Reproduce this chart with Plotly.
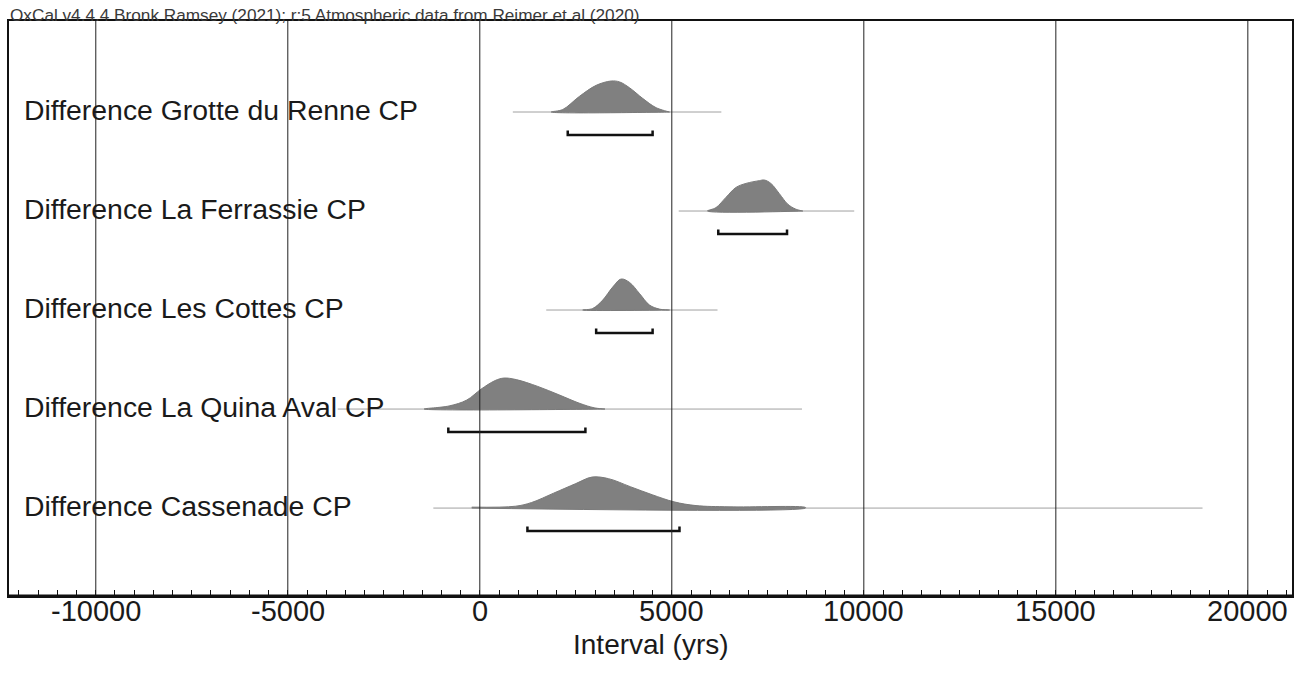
import plotly.graph_objects as go

# ---- data ----
labels = ["Difference Grotte du Renne CP", "Difference La Ferrassie CP",
          "Difference Les Cottes CP", "Difference La Quina Aval CP",
          "Difference Cassenade CP"]

range_lo = [860, 5180, 1730, -3700, -1210]
range_hi = [6290, 9750, 6190, 8390, 18820]

dens_x = [
    [1860, 2160, 2590, 3030, 3420, 3640, 3900, 4240, 4590, 4940],
    [5930, 6150, 6410, 6670, 6930, 7280, 7410, 7580, 7800, 8020, 8230, 8410],
    [2680, 2940, 3200, 3460, 3680, 3900, 4160, 4420, 4680, 4940],
    [-1450, -800, -340, 30, 400, 630, 950, 1510, 2060, 2610, 2980, 3260],
    [-210, 930, 1350, 1920, 2500, 2920, 3350, 3920, 4490, 5060, 5630, 6490, 8480],
]
dens_y = [
    [0.0, 0.08, 0.5, 0.86, 1.0, 0.97, 0.78, 0.44, 0.14, 0.0],
    [0.0, 0.11, 0.44, 0.76, 0.89, 0.98, 1.0, 0.89, 0.56, 0.22, 0.06, 0.0],
    [0.0, 0.05, 0.32, 0.74, 1.0, 0.89, 0.53, 0.16, 0.03, 0.0],
    [0.0, 0.1, 0.29, 0.64, 0.92, 1.0, 0.95, 0.73, 0.46, 0.18, 0.04, 0.0],
    [0.03, 0.06, 0.18, 0.48, 0.79, 1.0, 0.95, 0.69, 0.43, 0.2, 0.08, 0.04, 0.02],
]

bracket_lo = [2290, 6210, 3030, -820, 1240]
bracket_hi = [4500, 8000, 4500, 2750, 5200]

grid_ticks = [-10000, -5000, 0, 5000, 10000, 15000, 20000]
tick_text = ["-10000", "-5000", "0", "5000", "10000", "15000", "20000"]

header = "OxCal v4.4.4 Bronk Ramsey (2021); r:5 Atmospheric data from Reimer et al (2020)"
x_title = "Interval (yrs)"

# ---- figure ----
H = 0.313       # peak height in row units
BR = 0.232      # bracket offset below baseline
BT = 0.045      # bracket end tick height
FONT = "Liberation Sans, Arial, sans-serif"

fig = go.Figure()

for i in range(len(labels)):
    fig.add_trace(go.Scatter(x=[range_lo[i], range_hi[i]], y=[i, i], mode="lines",
                             line=dict(color="#a0a0a0", width=1), hoverinfo="skip",
                             showlegend=False))
    xs = dens_x[i] + [dens_x[i][-1], dens_x[i][0]]
    ys = [i - d * H for d in dens_y[i]] + [i, i]
    fig.add_trace(go.Scatter(x=xs, y=ys, mode="lines", fill="toself",
                             fillcolor="#808080", line=dict(color="#7a7a7a", width=1),
                             line_shape="spline", hoverinfo="skip", showlegend=False))
    yb = i + BR
    fig.add_trace(go.Scatter(x=[bracket_lo[i], bracket_lo[i], bracket_hi[i], bracket_hi[i]],
                             y=[yb - BT, yb, yb, yb - BT], mode="lines",
                             line=dict(color="#111111", width=2.5),
                             hoverinfo="skip", showlegend=False))
    fig.add_annotation(x=0.0105, xref="paper", y=i, yref="y", text=labels[i],
                       showarrow=False, xanchor="left", yanchor="middle", yshift=2,
                       font=dict(family=FONT, size=28.4, color="#1a1a1a"))

for v in grid_ticks:
    fig.add_shape(type="line", x0=v, x1=v, xref="x", y0=0, y1=1, yref="paper",
                  line=dict(color="#222222", width=1), layer="above")

for v, t in zip(grid_ticks, tick_text):
    fig.add_annotation(x=v, xref="x", y=0, yref="paper", text=t, showarrow=False,
                       xanchor="center", yanchor="middle", yshift=-15,
                       font=dict(family=FONT, size=29, color="#1a1a1a"))

fig.add_shape(type="line", x0=0, x1=1, xref="paper", y0=0, y1=0, yref="paper",
              line=dict(color="#111111", width=3), layer="above")

fig.add_annotation(x=-0.001, xref="paper", y=1, yref="paper", text=header,
                   showarrow=False, xanchor="left", yanchor="middle", yshift=6,
                   font=dict(family=FONT, size=17.2, color="#3a3a3a"))
fig.add_annotation(x=0.5, xref="paper", y=-0.085, yref="paper", text=x_title,
                   showarrow=False, xanchor="center", yanchor="middle",
                   font=dict(family=FONT, size=28, color="#1a1a1a"))

fig.update_xaxes(range=[-12260, 21150], tickvals=grid_ticks, showticklabels=False,
                 ticks="inside", ticklen=6, tickcolor="#111111", showgrid=False,
                 zeroline=False, showline=True, linecolor="#111111", linewidth=2,
                 mirror=True,
                 minor=dict(dtick=500, tick0=0, ticks="inside", ticklen=6,
                            tickcolor="#111111", showgrid=False))
fig.update_yaxes(range=[4.888, -0.919], showgrid=False, zeroline=False,
                 showticklabels=False, ticks="", showline=True, linecolor="#111111",
                 linewidth=2, mirror=True)

fig.update_layout(width=1303, height=690, plot_bgcolor="white", paper_bgcolor="white",
                  margin=dict(l=9, r=9, t=21, b=94), showlegend=False)

fig.write_html("out.html", config={"displayModeBar": False},
               post_script="document.body.style.margin='0';document.body.style.overflow='hidden';")
